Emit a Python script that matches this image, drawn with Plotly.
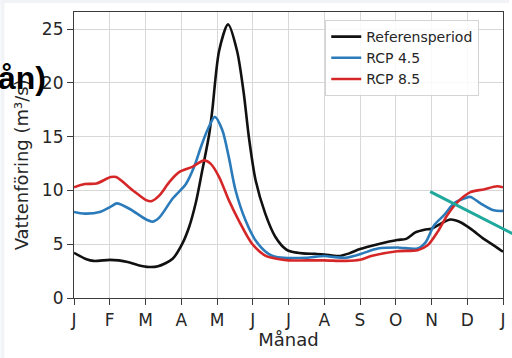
import plotly.graph_objects as go

# Monthly axis: 0 = 1 January, 12 = 31 December
month_labels = ["J", "F", "M", "A", "M", "J", "J", "A", "S", "O", "N", "D", "J"]
month_ticks = list(range(13))

# Referensperiod (m³/s)
ref_x = [0.00, 0.35, 0.55, 1.00, 1.25, 1.50, 1.80, 2.10, 2.35, 2.76, 3.03, 3.22, 3.41,
         3.59, 3.78, 3.87, 4.06, 4.31, 4.56, 4.75, 4.89, 5.08, 5.35, 5.63, 5.94, 6.10,
         6.40, 6.75, 7.00, 7.40, 7.70, 8.00, 8.50, 9.04, 9.29, 9.55, 9.80, 10.00, 10.25,
         10.53, 10.81, 11.09, 11.46, 11.74, 12.00]
ref_y = [4.2, 3.6, 3.45, 3.55, 3.5, 3.35, 3.05, 2.88, 2.95, 3.65, 5.05, 6.6, 8.9,
         11.9, 15.2, 17.5, 23.0, 25.45, 23.0, 19.0, 15.0, 10.95, 7.85, 5.7, 4.5, 4.3,
         4.15, 4.1, 4.05, 3.9, 4.15, 4.55, 5.0, 5.4, 5.5, 6.1, 6.35, 6.45, 6.9,
         7.3, 7.05, 6.45, 5.5, 4.9, 4.3]

# RCP 4.5 (m³/s)
rcp45_x = [0.00, 0.30, 0.72, 1.03, 1.20, 1.55, 2.02, 2.20, 2.39, 2.76, 3.13, 3.36, 3.55,
           3.73, 3.94, 4.15, 4.33, 4.52, 4.80, 5.08, 5.44, 5.67, 6.00, 6.50, 7.00, 7.30,
           7.60, 8.02, 8.50, 9.04, 9.61, 9.84, 10.07, 10.35, 10.63, 10.91, 11.09, 11.37,
           11.74, 12.00]
rcp45_y = [8.0, 7.85, 8.0, 8.5, 8.8, 8.3, 7.3, 7.1, 7.5, 9.25, 10.6, 12.2, 14.05,
           15.6, 16.85, 15.6, 13.1, 10.0, 7.2, 5.35, 4.1, 3.8, 3.72, 3.75, 3.9, 3.8,
           3.75, 4.1, 4.6, 4.7, 4.6, 5.2, 6.75, 7.7, 8.8, 9.25, 9.4, 8.8,
           8.15, 8.1]

# RCP 8.5 (m³/s)
rcp85_x = [0.00, 0.30, 0.63, 1.03, 1.18, 1.65, 2.02, 2.16, 2.39, 2.67, 2.94, 3.31, 3.64,
           3.82, 4.06, 4.33, 4.61, 4.98, 5.35, 5.67, 6.00, 6.50, 7.00, 7.60, 8.00, 8.31,
           9.04, 9.61, 9.89, 10.17, 10.44, 10.72, 11.09, 11.46, 11.83, 12.00]
rcp85_y = [10.3, 10.6, 10.65, 11.25, 11.25, 10.0, 9.1, 9.0, 9.55, 10.8, 11.7, 12.2, 12.8,
           12.5, 11.25, 9.1, 7.2, 5.05, 3.95, 3.65, 3.5, 3.5, 3.5, 3.45, 3.55, 3.9,
           4.35, 4.45, 4.9, 6.15, 7.7, 8.9, 9.85, 10.1, 10.4, 10.3]

y_ticks = [0, 5, 10, 15, 20, 25]

W, H = 512, 358
L, R, T, B = 74, 6, 12, 60
PW, PH = W - L - R, H - T - B


def px_x(p):
    return (p - L) / PW


def px_y(p):
    return (H - B - p) / PH


FONT = "DejaVu Sans"
TEXT = "#262626"

fig = go.Figure()
series = [
    ("Referensperiod", ref_x, ref_y, "#111111"),
    ("RCP 4.5", rcp45_x, rcp45_y, "#2b7bba"),
    ("RCP 8.5", rcp85_x, rcp85_y, "#d62728"),
]
for name, xs, ys, col in series:
    fig.add_trace(go.Scatter(
        x=xs, y=ys, name=name, mode="lines",
        line=dict(color=col, width=2.6, shape="spline", smoothing=0.8),
    ))

axis_common = dict(
    showgrid=True, gridcolor="#d8d8d8", gridwidth=1,
    showline=True, linecolor="#3c3c3c", linewidth=1.2, mirror=True,
    ticks="outside", ticklen=6, tickcolor="#3c3c3c", tickwidth=1.2,
    zeroline=False,
    tickfont=dict(family=FONT, size=17, color=TEXT),
)

fig.update_xaxes(
    range=[0, 12], tickmode="array", tickvals=month_ticks, ticktext=month_labels,
    title=dict(text="Månad", font=dict(family=FONT, size=18, color=TEXT), standoff=4),
    **axis_common,
)
fig.update_yaxes(
    range=[0, 26.6], tickmode="array", tickvals=y_ticks,
    **axis_common,
)

annotations = [
    # rotated y-axis label
    dict(text="Vattenföring (m³/s)", xref="paper", yref="paper",
         x=px_x(21.5), y=px_y(252), xanchor="center", yanchor="bottom",
         textangle=-90, showarrow=False,
         font=dict(family=FONT, size=18, color=TEXT)),
    # bold heading fragment overlapping the axis label
    dict(text="<b>ån)</b>", xref="paper", yref="paper",
         x=px_x(48), y=px_y(78), xanchor="right", yanchor="middle",
         showarrow=False,
         font=dict(family="Liberation Sans", size=32, color="#000000")),
]

shapes = [
    # light frame strips on the left and top edges
    dict(type="rect", xref="paper", yref="paper", x0=px_x(0), x1=px_x(4),
         y0=px_y(H), y1=px_y(0), fillcolor="#f1f3f6", line=dict(width=0)),
    dict(type="rect", xref="paper", yref="paper", x0=px_x(0), x1=px_x(W),
         y0=px_y(3), y1=px_y(0), fillcolor="#f1f3f6", line=dict(width=0)),
    # teal pointer line across the right side
    dict(type="line", xref="paper", yref="paper",
         x0=px_x(432.7), y0=px_y(191.7), x1=px_x(516), y1=px_y(233.9),
         line=dict(color="#1fa89c", width=3)),
]

fig.update_layout(
    width=W, height=H,
    margin=dict(l=L, r=R, t=T, b=B),
    paper_bgcolor="white", plot_bgcolor="white",
    showlegend=True,
    legend=dict(
        x=px_x(327), y=px_y(20), xanchor="left", yanchor="top",
        bgcolor="rgba(255,255,255,0.85)", bordercolor="#d4d4d4", borderwidth=1,
        font=dict(family=FONT, size=14, color=TEXT),
        itemwidth=30, tracegroupgap=0,
    ),
    annotations=annotations,
    shapes=shapes,
)

fig.write_html("out.html")
